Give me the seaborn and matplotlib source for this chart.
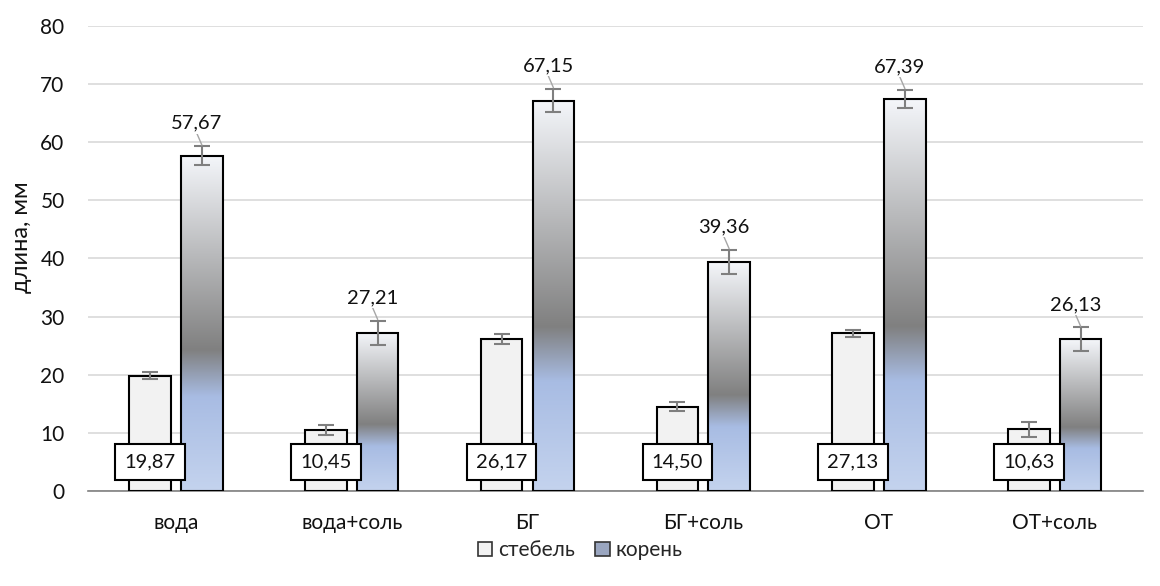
import numpy as np
import pandas as pd
import seaborn as sns
import matplotlib.pyplot as plt
from matplotlib.colors import LinearSegmentedColormap
from matplotlib.patches import Patch

groups = ['вода', 'вода+соль', 'БГ', 'БГ+соль', 'ОТ', 'ОТ+соль']
stem = [19.87, 10.45, 26.17, 14.50, 27.13, 10.63]
root = [57.67, 27.21, 67.15, 39.36, 67.39, 26.13]
stem_err = [0.55, 0.85, 0.8, 0.8, 0.6, 1.3]
root_err = [1.6, 2.1, 2.0, 2.1, 1.6, 2.0]
series = ['стебель', 'корень']

df = pd.DataFrame({
    'group': groups * 2,
    'part': [series[0]] * len(groups) + [series[1]] * len(groups),
    'value': stem + root,
})

sns.set_theme(style='white')
plt.rcParams['font.family'] = ['Lato', 'DejaVu Sans']

fig = plt.figure(figsize=(11.6, 5.86), dpi=100)
ax = fig.add_axes([0.076, 0.162, 0.909, 0.794])

sns.barplot(data=df, x='group', y='value', hue='part', hue_order=series,
            palette=['#F2F2F2', '#F2F2F2'], width=0.59, gap=0.2,
            edgecolor='black', linewidth=1.5, errorbar=None, legend=False,
            ax=ax, zorder=3)

ax.set_ylim(0, 80)
ax.set_xlim(-0.5, len(groups) - 0.5)
ax.set_yticks(range(0, 81, 10))
ax.yaxis.grid(True, color='#D9D9D9', lw=1.2, zorder=0)
ax.set_axisbelow(True)
for s in ['top', 'right', 'left']:
    ax.spines[s].set_visible(False)
ax.spines['bottom'].set_color('#808080')
ax.spines['bottom'].set_linewidth(1.2)
ax.tick_params(axis='both', length=0, labelsize=15, colors='#111111')
ax.tick_params(axis='y', pad=17)
ax.tick_params(axis='x', pad=16)
ax.set_xlabel('')
ax.set_ylabel('длина, мм', fontsize=17, color='#111111')
ax.yaxis.set_label_coords(-0.053, 0.546)

# gradient fill for root bars
cmap = LinearSegmentedColormap.from_list('root', [
    (0.0, '#C4D3EE'), (0.28, '#A8BCE3'), (0.42, '#808080'), (1.0, '#F4F6FA')])
grad = np.linspace(0, 1, 256).reshape(-1, 1)
stem_bars = ax.containers[0]
root_bars = ax.containers[1]
for p in root_bars.patches:
    x0, w, h = p.get_x(), p.get_width(), p.get_height()
    im = ax.imshow(grad, cmap=cmap, extent=[x0, x0 + w, 0, h], origin='lower',
                   aspect='auto', zorder=2.9, interpolation='bicubic')
    im.set_clip_path(p)
    p.set_facecolor('none')
ax.set_xlim(-0.5, len(groups) - 0.5)
ax.set_ylim(0, 80)

# error bars
for bars, vals, errs in [(stem_bars, stem, stem_err), (root_bars, root, root_err)]:
    xs = [p.get_x() + p.get_width() / 2 for p in bars.patches]
    ax.errorbar(xs, vals, yerr=errs, fmt='none', ecolor='#7F7F7F',
                elinewidth=1.5, capsize=6, capthick=1.5, zorder=4)

# labels
for p, v, e in zip(root_bars.patches, root, root_err):
    cx = p.get_x() + p.get_width() / 2
    top = v + e
    ax.plot([cx - 0.03, cx], [top + 2.3, top + 0.2], color='#A6A6A6', lw=1, zorder=4)
    ax.text(cx - 0.03, top + 2.5, f'{v:.2f}'.replace('.', ','), ha='center',
            va='bottom', fontsize=14.5, color='#111111', zorder=5,
            bbox=dict(boxstyle='square,pad=0.1', fc='white', ec='none'))

for p, v in zip(stem_bars.patches, stem):
    cx = p.get_x() + p.get_width() / 2
    ax.text(cx, 5.0, f'{v:.2f}'.replace('.', ','), ha='center', va='center',
            fontsize=14.5, color='#111111', zorder=6,
            bbox=dict(boxstyle='square,pad=0.45', fc='white', ec='black', lw=1.5))

handles = [Patch(facecolor='#F2F2F2', edgecolor='#333333', lw=1.2),
           Patch(facecolor='#9AA6C0', edgecolor='#333333', lw=1.2)]
fig.legend(handles, series, loc='center', bbox_to_anchor=(0.5, 0.061), ncol=2,
           frameon=False, fontsize=15, handlelength=0.7, handleheight=0.7,
           handletextpad=0.25, columnspacing=1.0)

fig.savefig('out.png', dpi=100)
